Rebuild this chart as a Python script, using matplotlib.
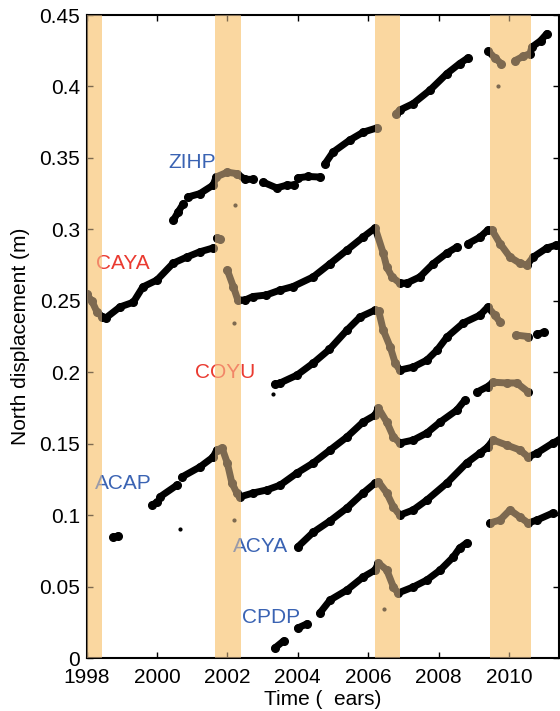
import numpy as np
import matplotlib
matplotlib.use('Agg')
import matplotlib.pyplot as plt

plt.rcParams['font.family'] = ['Liberation Sans', 'DejaVu Sans']

nan = np.nan

# station time series (time in years, north displacement in m)
# nan separates data gaps
zihp_t = [2000.47, 2000.6, 2000.75, nan, 2000.88, 2001.22, 2001.6, 2001.68, 2002.0, 2002.27,
          2002.5, 2002.73, nan, 2003.02, 2003.4, 2003.7, 2003.9, nan, 2004.0, 2004.3, 2004.63, nan,
          2004.78, 2005.0, 2005.48, 2005.86, 2006.25, nan, 2006.8, 2006.9, 2007.28, 2007.76,
          2008.24, 2008.6, 2008.84, nan, 2009.42, 2009.6, 2009.78, nan, 2010.17, 2010.4, 2010.6,
          2010.65, 2010.9, 2011.08]
zihp_y = [0.3065, 0.312, 0.318, nan, 0.3226, 0.325, 0.331, 0.3366, 0.340, 0.339,
          0.335, 0.335, nan, 0.333, 0.329, 0.331, 0.331, nan, 0.336, 0.337, 0.3366, nan,
          0.346, 0.354, 0.3625, 0.368, 0.371, nan, 0.381, 0.3835, 0.388, 0.3975,
          0.409, 0.416, 0.420, nan, 0.4245, 0.420, 0.416, nan, 0.418, 0.421, 0.423,
          0.4275, 0.432, 0.437]

caya_t = [1998.0, 1998.15, 1998.3, 1998.44, 1998.55, 1998.95, 1999.33, 1999.6, 2000.0, 2000.46,
          2000.85, 2001.22, 2001.6, nan, 2001.7, 2001.8, nan, 2002.0, 2002.17, 2002.3, 2002.5,
          2002.73, 2003.1, 2003.5, 2003.87, 2004.44, 2004.92, 2005.4, 2005.86, 2006.2,
          2006.43, 2006.53, 2006.68, 2006.9, 2007.1, 2007.47, 2007.85, 2008.24, 2008.52, nan,
          2008.84, 2009.18, 2009.4, 2009.52, 2009.75, 2010.03, 2010.31, 2010.51, 2010.69,
          2011.08, 2011.35]
caya_y = [0.2545, 0.250, 0.242, 0.239, 0.238, 0.2457, 0.249, 0.2597, 0.2645, 0.2763,
          0.2806, 0.2843, 0.287, nan, 0.294, 0.293, nan, 0.2715, 0.260, 0.2505, 0.2505,
          0.253, 0.254, 0.2575, 0.260, 0.2667, 0.276, 0.2855, 0.2946, 0.301,
          0.2834, 0.2736, 0.2667, 0.2624, 0.2624, 0.2667, 0.276, 0.2834, 0.2876, nan,
          0.290, 0.2946, 0.2995, 0.2995, 0.290, 0.2806, 0.2763, 0.275, 0.2806,
          0.287, 0.289]

coyu_t = [2003.35, 2003.5, 2003.98, 2004.44, 2004.9, 2005.4, 2005.77, 2006.2, 2006.3, 2006.43,
          2006.63, 2006.77, 2006.9, 2007.28, 2007.67, 2007.96, 2008.24, 2008.7, 2009.18, 2009.4,
          2009.6, 2009.75, nan, 2010.2, 2010.55, nan, 2010.8, 2011.0]
coyu_y = [0.1915, 0.1925, 0.198, 0.2064, 0.216, 0.2295, 0.2386, 0.2435, 0.243, 0.2295,
          0.2176, 0.2064, 0.2015, 0.2036, 0.2085, 0.2155, 0.2246, 0.2344, 0.240, 0.2456,
          0.240, 0.235, nan, 0.226, 0.225, nan, 0.2265, 0.228]

acap_t = [1998.76, 1998.9, nan, 1999.86, 2000.0, nan, 2000.1, 2000.57, nan, 2000.71, 2001.22,
          2001.6, 2001.7, 2001.85, 2002.0, 2002.13, 2002.27, 2002.35, 2002.73, 2003.12, 2003.5,
          2003.98, 2004.44, 2004.92, 2005.4, 2005.86, 2006.2, 2006.29, 2006.53, 2006.72, 2006.9,
          2007.28, 2007.67, 2008.05, 2008.52, 2008.75, nan, 2009.1, 2009.4, 2009.55, 2009.94,
          2010.22, 2010.55]
acap_y = [0.0845, 0.0855, nan, 0.107, 0.109, nan, 0.113, 0.121, nan, 0.1267, 0.1337,
          0.1407, 0.1456, 0.147, 0.1365, 0.1225, 0.1155, 0.1127, 0.1155, 0.1176, 0.121,
          0.1295, 0.1365, 0.1456, 0.1547, 0.1652, 0.170, 0.175, 0.1652, 0.1547, 0.1505,
          0.1525, 0.1575, 0.1652, 0.1735, 0.1805, nan, 0.1862, 0.190, 0.193, 0.1925,
          0.1925, 0.1862]

acya_t = [2004.0, 2004.44, 2004.92, 2005.4, 2005.86, 2006.2, 2006.29, 2006.53, 2006.72, 2006.9,
          2007.28, 2007.67, 2008.24, 2008.8, 2009.18, 2009.4, 2009.55, 2009.94, 2010.31, 2010.55,
          2010.8, 2011.25, 2011.42]
acya_y = [0.0777, 0.088, 0.096, 0.105, 0.1155, 0.1225, 0.1235, 0.1155, 0.1057, 0.100,
          0.1036, 0.1106, 0.1225, 0.1365, 0.1435, 0.1477, 0.1526, 0.149, 0.1456, 0.1407,
          0.1435, 0.1505, 0.1526]

cpdp_t = [2003.35, 2003.6, nan, 2004.0, 2004.27, nan, 2004.63, 2004.92, 2005.4, 2005.86, 2006.2,
          2006.29, 2006.53, 2006.72, 2006.85, 2007.28, 2007.67, 2008.05, 2008.42, 2008.6, 2008.8,
          nan, 2009.46, 2009.75, 2010.03, 2010.31, 2010.55, 2010.8, 2011.25]
cpdp_y = [0.007, 0.012, nan, 0.021, 0.024, nan, 0.0315, 0.0406, 0.0476, 0.0567, 0.0616,
          0.0665, 0.0616, 0.0497, 0.0455, 0.0497, 0.0546, 0.0616, 0.0707, 0.077, 0.0805,
          nan, 0.0945, 0.0966, 0.1036, 0.0987, 0.0945, 0.0966, 0.1015]

# isolated outlier points
out_t = [2002.22, 2002.2, 2000.66, 2002.2, 2003.3, 2006.45, 2009.7]
out_y = [0.317, 0.2345, 0.090, 0.0966, 0.185, 0.0345, 0.4]

# slow slip event windows
sse_start = [1997.9, 2001.65, 2006.2, 2009.46]
sse_end = [1998.45, 2002.38, 2006.9, 2010.62]

stations = ['ZIHP', 'CAYA', 'COYU', 'ACAP', 'ACYA', 'CPDP']
label_x = [2000.32, 1998.27, 2001.08, 1998.24, 2002.16, 2002.42]
label_y = [0.347, 0.2764, 0.1995, 0.1218, 0.0784, 0.0287]
label_c = ['#3A63B3', '#EA3A30', '#EA3A30', '#3A63B3', '#3A63B3', '#3A63B3']

fig = plt.figure(figsize=(5.6, 7.11), dpi=100)
ax = fig.add_axes([0.1545, 0.0745, 0.8435, 0.9044])

for s, e in zip(sse_start, sse_end):
    ax.axvspan(s, e, color='#FADEA0', lw=0, zorder=0)

for t, y in [(zihp_t, zihp_y), (caya_t, caya_y), (coyu_t, coyu_y),
             (acap_t, acap_y), (acya_t, acya_y), (cpdp_t, cpdp_y)]:
    ax.plot(t, y, '-', color='black', lw=5, solid_capstyle='round',
            solid_joinstyle='round', zorder=2)
    ax.plot(t, y, 'o', color='black', ms=5.5, zorder=2)
ax.plot(out_t, out_y, 'o', color='black', ms=2, zorder=2)

for name, x, y, c in zip(stations, label_x, label_y, label_c):
    ax.text(x, y, name, color=c, fontsize=15, ha='left', va='center', zorder=3)

# translucent veil over the event windows (tints the data beneath)
for s, e in zip(sse_start, sse_end):
    ax.axvspan(s, e, color='#FAD2A0', alpha=0.5, lw=0, zorder=5)

ax.set_xlim(1998, 2011.42)
ax.set_ylim(0, 0.45)
ax.set_xticks([1998, 2000, 2002, 2004, 2006, 2008, 2010])
ax.set_yticks(np.arange(0, 0.451, 0.05))
ax.set_yticklabels(['0', '0.05', '0.1', '0.15', '0.2', '0.25', '0.3', '0.35', '0.4', '0.45'])
ax.tick_params(direction='in', top=True, right=True, length=4, width=1, labelsize=15)
ax.tick_params(axis='x', pad=7)
ax.tick_params(axis='y', pad=4.5)
for sp in ax.spines.values():
    sp.set_linewidth(1.5)

ax.set_xlabel('Time (  ears)', fontsize=15)
ax.set_ylabel('North displacement (m)', fontsize=15)
ax.xaxis.set_label_coords(0.5, -0.05)
ax.yaxis.set_label_coords(-0.12, 0.5)

fig.savefig('out.png', dpi=100)
